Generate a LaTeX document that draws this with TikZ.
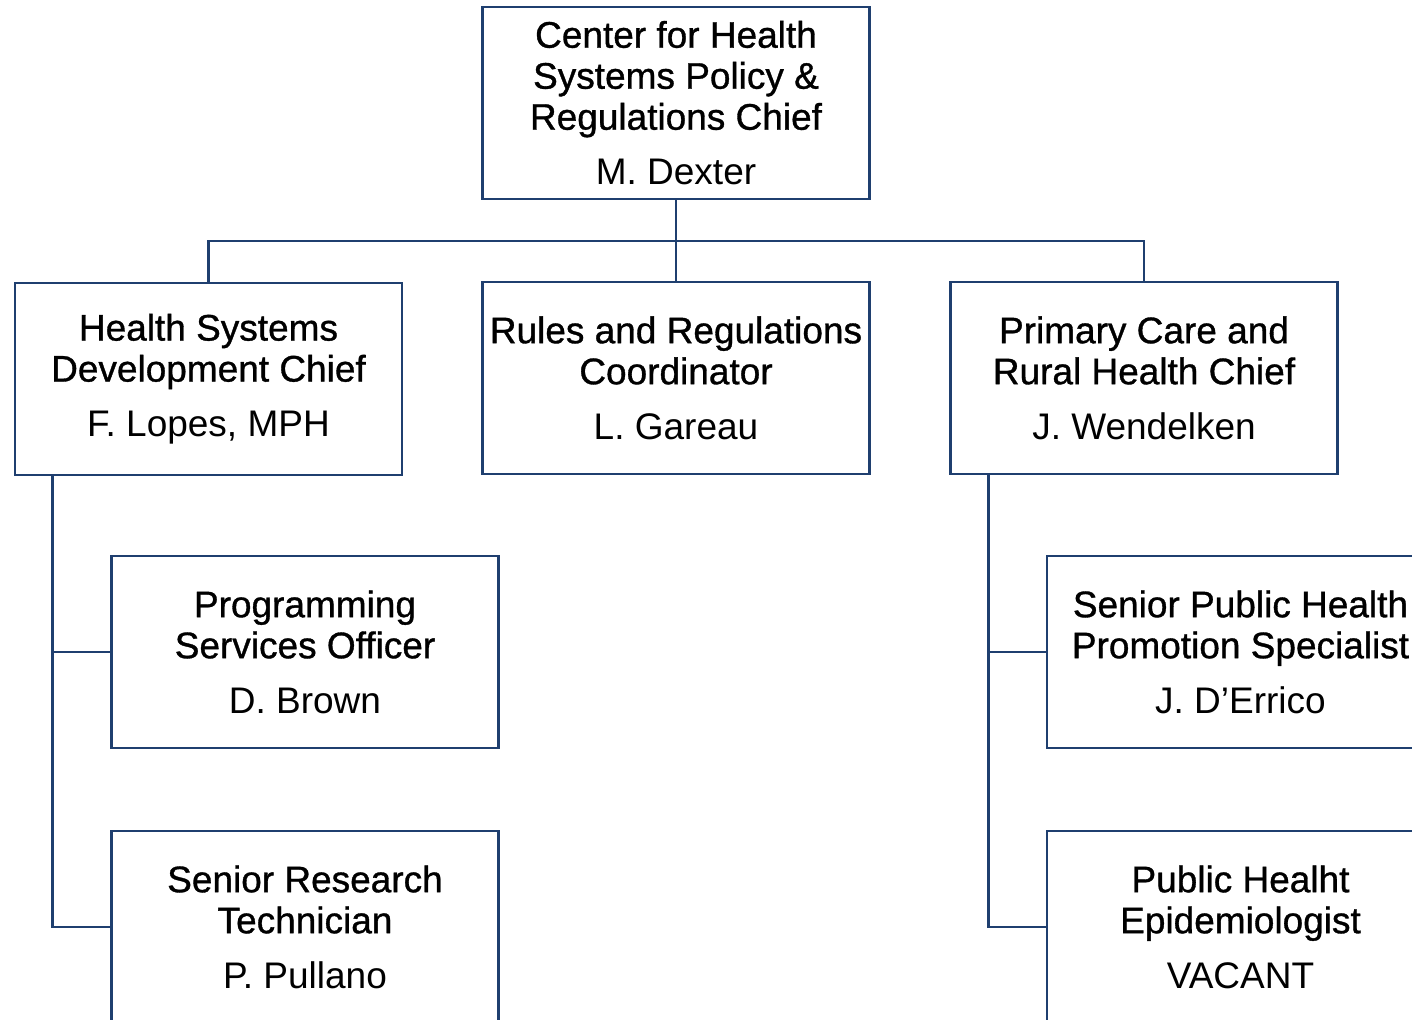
\documentclass[tikz,border=0pt]{standalone}
\usepackage{fontspec}
\setmainfont{Liberation Sans}
\newfontfamily\medfont[FakeBold=0.9]{Liberation Sans}
\definecolor{orgblue}{HTML}{1F3F6F}
\tikzset{
  post/.style={draw=orgblue, line width=2.8pt, fill=white, minimum width=387pt, minimum height=192pt,
    inner sep=0pt, align=center, font=\fontsize{37}{41}\selectfont, text=black},
  link/.style={draw=orgblue, line width=2.8pt}
}
\begin{document}
\begin{tikzpicture}[x=1pt,y=-1pt]
\useasboundingbox (0,0) rectangle (1412,1019);
\clip (0,0) rectangle (1412,1019);
\node[post] (top) at (676,103) {\medfont Center for Health\\\medfont Systems Policy \&\\\medfont Regulations Chief\\[14pt]\rmfamily M. Dexter};
\node[post] (hsd) at (208.5,379) {\medfont Health Systems\\\medfont Development Chief\\[14pt]\rmfamily F. Lopes, MPH};
\node[post] (rrc) at (676,378) {\medfont Rules and Regulations\\\medfont Coordinator\\[14pt]\rmfamily L. Gareau};
\node[post] (pcr) at (1144,378) {\medfont Primary Care and\\\medfont Rural Health Chief\\[14pt]\rmfamily J. Wendelken};
\node[post] (pso) at (305,652) {\medfont Programming\\\medfont Services Officer\\[14pt]\rmfamily D. Brown};
\node[post] (srt) at (305,927) {\medfont Senior Research\\\medfont Technician\\[14pt]\rmfamily P. Pullano};
\node[post] (sph) at (1240.5,652) {\medfont Senior Public Health\\\medfont Promotion Specialist\\[14pt]\rmfamily J. D'Errico};
\node[post] (phe) at (1240.5,927) {\medfont Public Healht\\\medfont Epidemiologist\\[14pt]\rmfamily VACANT};
\coordinate (bus) at (676,241);
\coordinate (lt) at ([xshift=39pt]hsd.south west);
\coordinate (rt) at ([xshift=39pt]pcr.south west);
\draw[link] (top.south) -- (rrc.north);
\draw[link] (hsd.north) |- (bus) -| (pcr.north);
\draw[link] (lt) |- (pso.west);
\draw[link] (lt) |- (srt.west);
\draw[link] (rt) |- (sph.west);
\draw[link] (rt) |- (phe.west);
\end{tikzpicture}
\end{document}
